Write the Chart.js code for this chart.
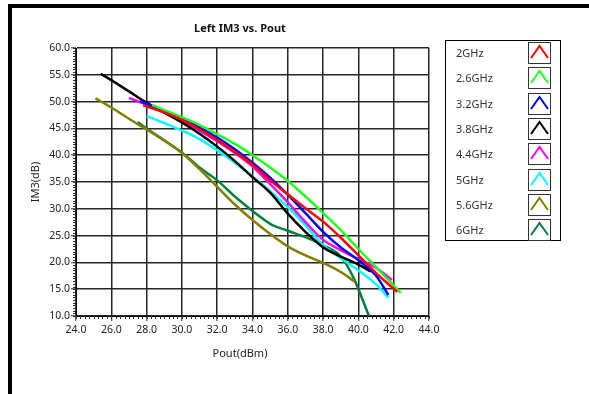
<!DOCTYPE html>
<html>
<head>
<meta charset="utf-8">
<script src="https://cdn.jsdelivr.net/npm/chart.js@4.4.1/dist/chart.umd.min.js"></script>
<style>
    html, body { margin: 0; padding: 0; background: #fff; }
    body { width: 589px; height: 394px; position: relative; overflow: hidden; font-family: "Noto Sans", sans-serif; }
    #frame { position: absolute; left: 8px; top: 4px; width: 700px; height: 500px; border-top: 4px solid #000; border-left: 4px solid #000; }
    #chart { position: absolute; left: 0; top: 0; }
    #title { position: absolute; left: 140px; top: 20px; width: 200px; text-align: center; font-weight: bold; font-size: 11px; color: #111; }
    #xTitle { position: absolute; left: 140px; top: 345px; width: 200px; text-align: center; font-size: 11px; color: #222; }
    #legend { position: absolute; left: 445px; top: 40px; width: 116px; height: 201px; border: 1px solid #000; box-sizing: border-box; }
    .row { position: absolute; left: 0; height: 22px; width: 100%; }
    .row span { position: absolute; left: 10px; top: 3px; font-size: 11px; color: #333; }
    .row svg { position: absolute; left: 82px; top: 0; }
</style>
</head>
<body>
<div id="frame"></div>
<canvas id="chart" width="589" height="394"></canvas>
<div id="title">Left IM3 vs. Pout</div>
<div id="xTitle">Pout(dBm)</div>
<div id="legend"></div>
<script>
const seriesNames = ["2GHz", "2.6GHz", "3.2GHz", "3.8GHz", "4.4GHz", "5GHz", "5.6GHz", "6GHz"];
const seriesColors = ["#ff0000", "#22ff22", "#0000ff", "#000000", "#ff00ff", "#00ffff", "#808000", "#008040"];

const x2G = [27.8, 29, 30, 31, 32, 33, 34, 35, 36, 37, 38, 39, 40, 41, 42.2];
const y2G = [49.3, 48.0, 46.6, 44.8, 42.8, 40.6, 38.2, 35.3, 32.7, 30.1, 27.6, 24.6, 21.3, 18.0, 14.5];

const x26G = [28.3, 29, 30, 31, 32, 33, 34, 35, 36, 37, 38, 39, 40, 41, 42.4];
const y26G = [49.4, 48.4, 47.1, 45.6, 43.9, 42.1, 40.0, 37.7, 35.2, 32.3, 29.2, 26.0, 22.5, 19.1, 14.3];

const x32G = [27.6, 29, 30, 31, 32, 33, 34, 35, 36, 37, 38, 39, 40, 41, 41.7];
const y32G = [50.1, 48.3, 47.0, 45.2, 43.3, 41.1, 38.6, 35.8, 32.6, 29.2, 25.7, 22.8, 20.4, 17.5, 13.9];

const x38G = [25.4, 26, 27, 28, 29, 30, 31, 32, 33, 34, 35, 36, 37, 38, 39, 40, 40.7];
const y38G = [55.2, 54.0, 51.9, 49.8, 48.0, 46.1, 44.0, 41.6, 38.9, 35.9, 33.0, 29.1, 25.7, 22.8, 21.1, 19.6, 18.3];

const x44G = [27, 28, 29, 30, 31, 32, 33, 34, 35, 36, 37, 38, 39, 40, 41, 41.9];
const y44G = [50.7, 49.4, 47.9, 46.3, 44.6, 42.6, 40.4, 37.9, 34.6, 31.2, 27.5, 24.2, 22.3, 20.6, 19.0, 16.7];

const x5G = [28, 29, 30, 31, 32, 33, 34, 35, 36, 37, 38, 39, 40, 41, 41.7];
const y5G = [47.3, 46.0, 44.6, 43.0, 40.9, 38.6, 36.0, 33.3, 30.3, 26.9, 23.2, 20.8, 18.5, 15.9, 13.4];

const x56G = [25.1, 26, 27, 28, 29, 30, 31, 32, 33, 34, 35, 36, 37, 38, 39, 39.8];
const y56G = [50.6, 48.9, 46.8, 44.8, 42.7, 40.4, 37.4, 34.1, 30.8, 27.9, 25.3, 23.0, 21.3, 19.9, 18.2, 16.4];

const x6G = [27.5, 28, 29, 30, 31, 32, 33, 34, 35, 36, 37, 38, 39, 39.7, 40.6];
const y6G = [46.2, 45.0, 42.8, 40.5, 37.7, 35.3, 32.3, 29.6, 27.2, 25.9, 24.7, 23.2, 21.1, 17.3, 10.0];

const xTicks = [24, 26, 28, 30, 32, 34, 36, 38, 40, 42, 44];
const yTicks = [10, 15, 20, 25, 30, 35, 40, 45, 50, 55, 60];

const xSeries = [x2G, x26G, x32G, x38G, x44G, x5G, x56G, x6G];
const ySeries = [y2G, y26G, y32G, y38G, y44G, y5G, y56G, y6G];

const tickFont = { family: "Noto Sans", size: 10.5 };

// small outward minor ticks along both axes
const minorTicks = {
    id: "minorTicks",
    afterDraw(chart) {
        const { ctx, chartArea: a, scales: { x, y } } = chart;
        ctx.save();
        ctx.strokeStyle = "#333";
        ctx.lineWidth = 1;
        ctx.beginPath();
        for (let v = x.min; v <= x.max + 0.001; v += 0.25) {
            const px = Math.round(x.getPixelForValue(v)) + 0.5;
            ctx.moveTo(px, a.bottom);
            ctx.lineTo(px, a.bottom + 3);
        }
        for (let v = y.min; v <= y.max + 0.001; v += 0.5) {
            const py = Math.round(y.getPixelForValue(v)) + 0.5;
            ctx.moveTo(a.left, py);
            ctx.lineTo(a.left - 3, py);
        }
        ctx.stroke();
        ctx.restore();
    }
};

function buildLegend() {
    const box = document.getElementById("legend");
    box.innerHTML = seriesNames.map((name, i) => `
        <div class="row" style="top:${1 + i * 25.3}px">
            <span>${name}</span>
            <svg width="23" height="22">
                <rect x="0.5" y="0.5" width="22" height="21" fill="#fff" stroke="#333"/>
                <polyline points="3,16 11.5,4 20,16" fill="none" stroke="${seriesColors[i]}" stroke-width="2"/>
            </svg>
        </div>
    `).join("");
}

function renderChart() {
    const ctx = document.getElementById("chart").getContext("2d");

    new Chart(ctx, {
        type: "line",
        data: {
            datasets: seriesNames.map((name, i) => ({
                label: name,
                data: xSeries[i].map((x, j) => ({ x: x, y: ySeries[i][j] })),
                borderColor: seriesColors[i],
                borderWidth: 2.5,
                pointRadius: 0,
                cubicInterpolationMode: "monotone",
                fill: false
            }))
        },
        options: {
            responsive: false,
            animation: false,
            layout: {
                padding: { left: 20, top: 48, right: 160, bottom: 56 }
            },
            plugins: {
                legend: { display: false },
                tooltip: { enabled: false }
            },
            scales: {
                x: {
                    type: "linear",
                    min: 24,
                    max: 44,
                    afterFit: s => { s.height = 22; },
                    afterBuildTicks: s => { s.ticks = xTicks.map(v => ({ value: v })); },
                    ticks: {
                        callback: v => v.toFixed(1),
                        padding: 3,
                        color: "#222",
                        font: tickFont,
                        maxRotation: 0
                    },
                    grid: { color: "#262626", lineWidth: 1.5, tickLength: 5, tickColor: "#333", tickWidth: 1 },
                    border: { color: "#000", width: 1 }
                },
                y: {
                    min: 10,
                    max: 60,
                    afterFit: s => { s.width = 56; },
                    afterBuildTicks: s => { s.ticks = yTicks.map(v => ({ value: v })); },
                    ticks: {
                        callback: v => v.toFixed(1),
                        padding: 1,
                        color: "#222",
                        font: tickFont
                    },
                    grid: { color: "#262626", lineWidth: 1.5, tickLength: 5, tickColor: "#333", tickWidth: 1 },
                    border: { color: "#000", width: 1 },
                    title: {
                        display: true,
                        text: "IM3(dB)",
                        color: "#222",
                        font: { family: "Noto Sans", size: 11 },
                        padding: { top: 9, bottom: 0 }
                    }
                }
            }
        },
        plugins: [minorTicks]
    });
}

buildLegend();
renderChart();
</script>
</body>
</html>
